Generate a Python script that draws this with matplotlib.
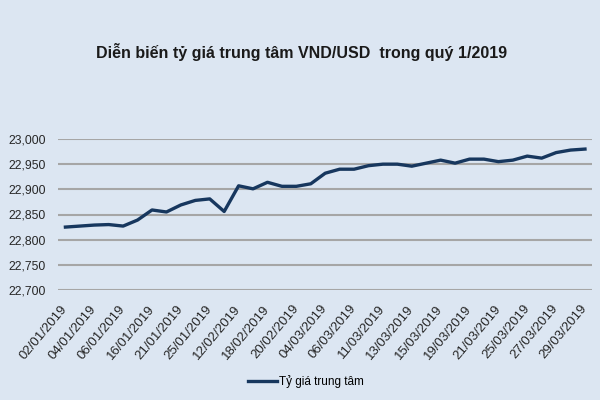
import matplotlib
matplotlib.use("Agg")
import matplotlib.pyplot as plt
from matplotlib.ticker import FuncFormatter

title = "Diễn biến tỷ giá trung tâm VND/USD  trong quý 1/2019"
series_name = "Tỷ giá trung tâm"
tick_labels = ["02/01/2019", "04/01/2019", "06/01/2019", "16/01/2019", "21/01/2019",
               "25/01/2019", "12/02/2019", "18/02/2019", "20/02/2019", "04/03/2019",
               "06/03/2019", "11/03/2019", "13/03/2019", "15/03/2019", "19/03/2019",
               "21/03/2019", "25/03/2019", "27/03/2019", "29/03/2019"]
values = [22825, 22827, 22829, 22830, 22827, 22839, 22859, 22855, 22869, 22878,
          22881, 22856, 22907, 22901, 22914, 22906, 22906, 22911, 22932, 22940,
          22940, 22947, 22950, 22950, 22946, 22952, 22958, 22952, 22960, 22960,
          22955, 22958, 22966, 22962, 22973, 22978, 22980]
y_ticks = [22700, 22750, 22800, 22850, 22900, 22950, 23000]

bg = "#dce6f2"
fam = ["Liberation Sans", "DejaVu Sans"]
plt.rcParams["font.family"] = fam

fig = plt.figure(figsize=(6, 4), dpi=100, facecolor=bg)
ax = fig.add_axes([0.097, 0.275, 0.89, 0.3775], facecolor=bg)

x = list(range(len(values)))
ax.plot(x, values, color="#17375e", lw=2.4, label=series_name, solid_joinstyle="round")

ax.set_xlim(-0.5, len(values) - 0.5)
ax.set_ylim(22700, 23000)
ax.set_yticks(y_ticks)
ax.yaxis.set_major_formatter(FuncFormatter(lambda v, p: f"{int(v):,}"))
ax.grid(axis="y", color="#a6a6a6", lw=1.5)
ax.set_axisbelow(True)
for s in ax.spines.values():
    s.set_visible(False)

ax.set_xticks(x[::2])
ax.set_xticklabels(tick_labels, rotation=50, ha="right", va="center",
                   rotation_mode="anchor", fontsize=9.5, color="#262626")
ax.tick_params(axis="x", length=0, pad=12)
ax.tick_params(axis="y", length=0, pad=9, labelsize=8.7, labelcolor="#262626")

fig.text(0.503, 0.87, title, ha="center", va="center", fontsize=11.5,
         fontweight="bold", color="#1a1a1a")

fig.legend(loc="center", bbox_to_anchor=(0.51, 0.047), frameon=False,
           fontsize=8.5, handlelength=2.4, handletextpad=0.2)

fig.savefig("out.png", dpi=100, facecolor=bg)
